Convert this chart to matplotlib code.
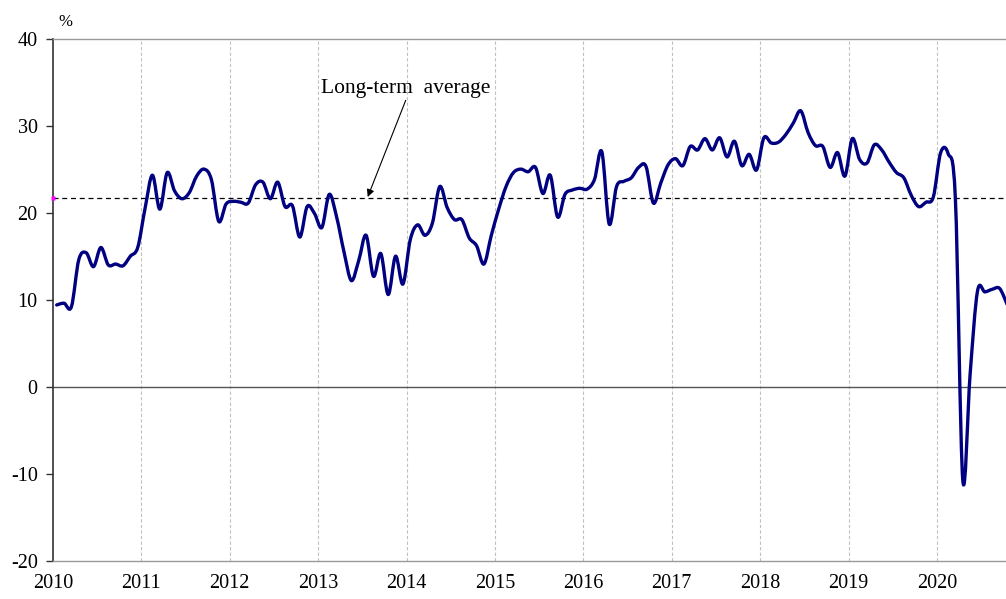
import matplotlib
matplotlib.use("Agg")
import matplotlib.pyplot as plt
import numpy as np
from matplotlib.path import Path
from matplotlib.patches import PathPatch

plt.rcParams['font.family'] = ['Liberation Serif', 'DejaVu Serif']

# monthly values, Jan 2010 .. Oct 2020 (%)
start_year = 2010
values = [
    9.4, 9.6, 9.2, 14.6, 15.4, 13.8, 16.0, 14.0, 14.1, 13.9, 15.0, 16.0,      # 2010
    20.5, 24.3, 20.4, 24.6, 22.5, 21.6, 22.3, 24.2, 25.0, 23.8, 19.0, 21.0,   # 2011
    21.3, 21.2, 21.1, 23.2, 23.5, 21.6, 23.5, 20.7, 20.8, 17.2, 20.7, 19.9,   # 2012
    18.3, 22.1, 19.5, 15.5, 12.2, 14.5, 17.4, 12.7, 15.3, 10.6, 15.0, 11.8,   # 2013
    16.9, 18.6, 17.4, 18.8, 23.0, 20.6, 19.2, 19.2, 17.1, 16.2, 14.1, 17.4,   # 2014
    20.4, 23.0, 24.6, 25.0, 24.7, 25.2, 22.2, 24.3, 19.5, 22.1, 22.6, 22.8,   # 2015
    22.7, 23.8, 27.0, 18.7, 23.0, 23.6, 24.0, 25.2, 25.3, 21.1, 23.4, 25.5,   # 2016
    26.2, 25.4, 27.6, 27.2, 28.5, 27.2, 28.6, 26.4, 28.2, 25.4, 26.7, 24.9,   # 2017
    28.6, 28.0, 28.1, 29.0, 30.3, 31.7, 29.2, 27.7, 27.6, 25.2, 26.9, 24.2,   # 2018
    28.5, 26.1, 25.7, 27.8, 27.2, 25.8, 24.6, 24.0, 22.0, 20.7, 21.2, 21.8,   # 2019
    26.9, 26.8, 21.5, -10.7, 1.5, 11.0, 10.9, 11.2, 11.3, 9.5,                # 2020
]
long_term_average = 21.7
years = list(range(2010, 2021))
y_ticks = [-20, -10, 0, 10, 20, 30, 40]

# points sit mid-month on a continuous year axis
x = start_year + (np.arange(len(values)) + 0.5) / 12.0
y = np.array(values)


def smooth_path(xs, ys):
    # Catmull-Rom style bezier through the monthly points (like a smoothed line)
    n = len(xs)
    verts = [(xs[0], ys[0])]
    codes = [Path.MOVETO]
    for i in range(n - 1):
        a = max(i - 1, 0)
        d = min(i + 2, n - 1)
        c1 = (xs[i] + (xs[i + 1] - xs[a]) / 6, ys[i] + (ys[i + 1] - ys[a]) / 6)
        c2 = (xs[i + 1] - (xs[d] - xs[i]) / 6, ys[i + 1] - (ys[d] - ys[i]) / 6)
        verts += [c1, c2, (xs[i + 1], ys[i + 1])]
        codes += [Path.CURVE4] * 3
    return Path(verts, codes)


fig = plt.figure(figsize=(10.06, 5.99), dpi=100)
ax = fig.add_axes([53 / 1006, 1 - 561 / 599, 1 - 53 / 1006, (561 - 38.5) / 599])

ax.set_xlim(2010, 2010 + (1006 - 53) / 88.4)
ax.set_ylim(-20, 40)

# year gridlines
for yr in years[1:]:
    ax.axvline(yr, color='#c0c0c0', lw=0.8, ls=(0, (3, 2)), zorder=1)

ax.axhline(0, color='#555555', lw=1.0, zorder=2)
ax.axhline(long_term_average, color='black', lw=0.9, ls=(0, (4, 3)), zorder=2)

patch = PathPatch(smooth_path(x, y), fill=False, edgecolor='#000080', lw=2.4,
                  capstyle='round', joinstyle='round', zorder=3)
ax.add_patch(patch)

ax.plot([2010], [long_term_average], marker='s', ms=3, color='#ff00ff',
        mec='none', clip_on=False, zorder=5)

ax.text(2013.99, 34.3, "Long-term  average", ha='center', va='center', fontsize=15.5)
ax.annotate('', xy=(2013.56, long_term_average + 0.1), xytext=(2013.99, 32.9),
            arrowprops=dict(arrowstyle='-|>', color='black', lw=0.8,
                            mutation_scale=11, shrinkA=0, shrinkB=0))

ax.text(2010 + 12 / 88.4, 41.0, "%", ha='center', va='bottom', fontsize=12)

ax.set_xticks(years)
ax.set_xticklabels([str(v) for v in years], fontsize=14.5)
ax.set_yticks(y_ticks)
ax.set_yticklabels([str(v) for v in y_ticks], fontsize=14.5)
ax.tick_params(axis='x', length=0, pad=9)
ax.tick_params(axis='y', length=5, width=1, color='#333333', pad=6, direction='out')

for side in ['top', 'bottom']:
    ax.spines[side].set_color('#999999')
    ax.spines[side].set_linewidth(1.0)
ax.spines['left'].set_color('#333333')
ax.spines['left'].set_linewidth(1.2)
ax.spines['right'].set_visible(False)

fig.savefig("out.png", dpi=100)
